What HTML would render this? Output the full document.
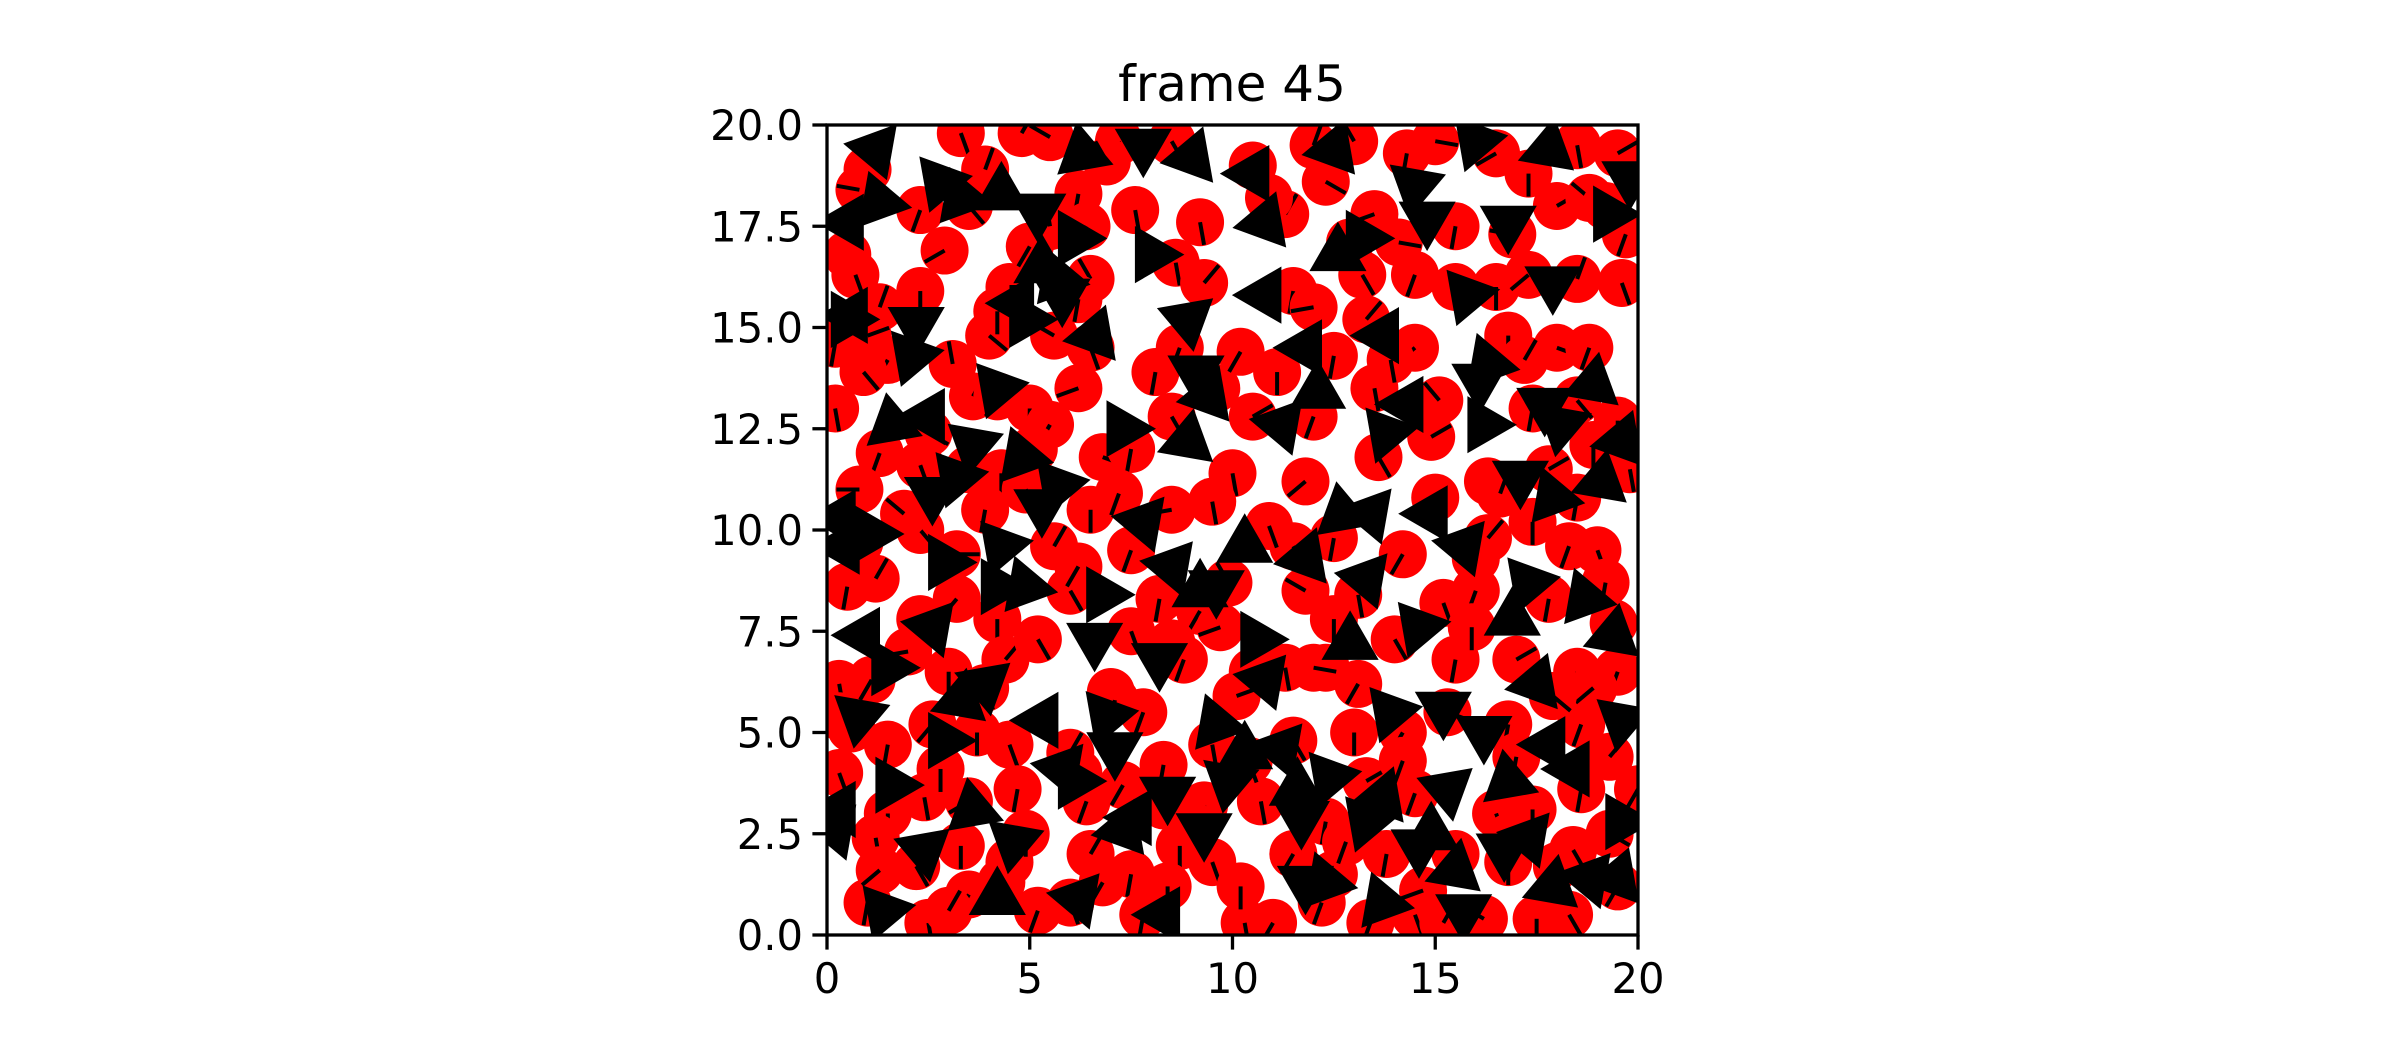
<!DOCTYPE html>
<html><head><meta charset="utf-8"><style>
html,body{margin:0;padding:0;background:#fff;}
svg{display:block;font-family:"DejaVu Sans","Liberation Sans",sans-serif;}
</style></head><body>
<svg id="chart" width="2400" height="1050" viewBox="0 0 2400 1050" xmlns="http://www.w3.org/2000/svg">
<rect width="2400" height="1050" fill="#fff"/>
<defs><clipPath id="ax"><rect x="827" y="125" width="811" height="810"/></clipPath></defs>
<text x="1232" y="101" font-size="50" text-anchor="middle">frame 45</text>
<g id="marks" clip-path="url(#ax)"></g>
<g id="axes"></g>
</svg>
<script>
const circX=[1,3.3,4.8,5.5,7.2,8.5,10.5,12,13,14.3,15,16.5,18.5,19.5,0.8,2.3,3.5,5.5,6.2,6.4,9.2,11.3,12.3,13.5,15.5,17.3,18,18.8,19.2,0.5,0.7,1.3,2.3,4.5,5,6.5,8.6,9.3,11.5,12,13.2,14.5,15.5,16.5,17.3,18.5,19.6,0.2,1,1.5,4,4.2,5.6,6.5,8.7,12.5,13.3,14.5,16.8,18,18.8,0.2,3.6,4.2,5,6.2,8.5,9.6,10.5,12,13.5,15.1,17.4,18.5,19.5,1.3,0.8,2.3,3.5,4.3,5.5,6.8,7.5,10,11.8,13.6,15,16.3,17.8,18.5,19.8,0.8,2.3,3.9,5.6,6.5,7.5,8.5,9.5,11.5,12.5,14.2,16,17.4,18.3,19,0.5,1.2,2.3,3.2,4.2,6,8.2,9.2,11.8,12.5,15.2,16,17.8,19.4,0.3,1.1,3,4.4,7,7.5,8.5,9.7,10.5,11.3,12.3,14,15.5,17,18.5,19.5,0.3,1.5,2.6,3.7,4.5,6,7.8,8.3,9.5,11.5,13,14.2,15.3,16.8,18.6,0.3,1.5,2.4,3.5,4.7,6.4,7.3,8.3,9.3,10.7,12.3,13.3,14.5,16.5,17.4,18.6,20,1.2,2.2,3.3,4.5,6.5,7.5,8.7,9.5,11.5,12.5,13.8,15.5,16.8,18,19.3,1,2.5,3.5,4.3,5.2,6,7.8,8.4,10.3,11,12.2,13.4,14.5,15.2,16.2,17.5,18.3,19.5,
3.9,6.9,10.9,14.1,2.9,7.6,12.9,16.9,19.7,0.9,3.1,6.2,10.2,13.9,17.2,2.5,5.1,8.1,11.1,14.9,1.9,4.9,7.2,10.9,16.6,18.9,3.2,6.2,9.9,13.1,16.3,19.2,2,5.2,8.8,12,15.9,18.9,0.6,3.9,7.1,10.1,13.1,17.9,2.8,6.2,10.4,14.2,17,19.3,1.3,4.9,8.9,12.8,16.8,3,6.8,10.2,14.7,18.4];
const circY=[18.9,19.8,19.8,19.7,19.6,19.6,19,19.5,19.6,19.3,19.6,19.3,19.5,19.3,18.4,17.9,18,17.5,18.3,17.5,17.6,17.8,18.6,17.8,17.5,18.8,18,18.2,18,16.8,16.3,15.5,15.9,16,17,16.2,16.6,16.1,15.9,15.5,16.3,16.3,16,16,16.3,16.2,16.1,14.6,14.8,14.2,14.8,15.4,14.8,14.5,14.5,14.3,15.2,14.5,14.8,14.5,14.5,13,13.3,13.3,13,13.5,12.8,13.5,12.8,12.8,13.5,13.2,13,13.2,12.7,11.9,11,11.6,11.5,11.4,12.6,11.8,12,11.4,11.2,11.8,10.8,11.2,11.5,10.8,11.5,9.7,10,10.5,9.6,10.5,9.5,10.5,10.7,9.6,9.8,9.4,9.3,10.2,9.6,9.5,8.6,8.8,7.8,8.3,7.8,8.5,8.3,8,8.5,7.8,8.2,8.5,8.3,7.7,6.2,6.3,6.5,6.8,6,7.5,7.2,7.6,6.5,6.6,6.6,7.3,6.8,6.8,6.5,6.5,5.4,4.7,5.2,5,4.7,4.5,5.5,4.2,4.7,4.8,5,5,5.5,5.2,5.2,4,3,3.4,3.3,3.6,3.3,3.7,3.2,3.2,3.3,2.8,3.8,3.5,3,3.1,3.6,3.6,2.4,1.7,2.2,1.8,2,1.5,2.2,1.8,2,1.5,2,2,1.8,1.7,2.5,0.8,0.3,1,1.3,0.6,0.8,0.5,1.2,0.3,0.3,0.8,0.3,0.5,0.3,0.4,0.4,0.5,1.2,
18.9,19.1,18.2,17.1,16.9,17.9,17.1,17.3,17.3,13.9,14.1,15.7,14.4,14.2,14.2,12.4,12,13.9,13.9,12.3,10.4,11,10.9,10.1,10.9,12.1,9.4,9.1,8.7,8.4,9.8,8.7,7,7.3,6.8,6.6,7.6,6.1,5.1,6.1,5.8,5.9,6.2,5.9,4.1,4,4.3,4.3,4.4,4.4,1.6,2.5,2.8,2.3,2.4,0.6,1.3,1.2,1.1,2.1];
const circAng=[200,160,30,300,180,150,210,20,330,190,100,240,170,60,280,200,140,350,190,210,170,30,120,250,190,180,60,310,150,200,160,20,180,90,210,330,170,40,190,260,150,200,100,180,230,20,160,190,70,210,130,180,300,160,200,190,40,230,180,110,200,170,30,210,180,250,150,190,60,200,170,320,190,140,180,200,270,160,30,180,210,110,190,170,230,150,180,200,60,190,170,210,140,190,30,180,200,260,170,150,190,210,80,180,200,160,190,30,170,220,180,150,190,210,300,180,160,200,190,130,170,210,180,40,190,160,200,250,180,170,210,150,190,60,180,200,170,190,220,180,160,30,200,190,170,150,180,210,110,190,200,160,180,170,240,190,200,210,150,180,170,190,60,200,160,180,190,210,170,150,180,200,30,190,180,160,210,170,190,200,180,150,120,190,170,210,180,200,160,190,180,170,210,200];
const triX=[1.2,2.8,4.3,6.3,7.8,9,10.5,12.5,14.5,16,17.8,19.8,0.5,3.3,5.2,8,10.8,13.2,14.8,16.8,19.3,0.6,2.2,4.7,5.7,8.9,10.8,12.6,15.8,17.9,0.5,2.1,4.2,6.6,9.1,11.8,13.7,16.3,18.9,1.6,3.6,4.8,7.3,8.9,11.2,13.8,16.2,17.7,19.6,0.3,2.6,5.3,7.8,10.3,12.7,14.9,17.9,2.9,4.3,6.8,9.6,11.8,13.3,15.7,17.3,18.7,0.9,2.6,4.2,6.6,8.2,10.6,12.9,14.6,16.9,19.4,0.8,3.3,5.3,7.1,9.6,11.2,13.9,16.2,17.8,19.6,1.6,3.6,5.8,8.4,10.3,12.4,13.7,15.3,16.8,18.4,0.2,2.4,4.6,7.3,9.3,11.7,13.3,14.9,17.3,19.6,1.4,4.2,6.2,8.3,11.8,13.7,15.7,17.9,19.5,
5.3,5.8,4.9,6.1,0.4,1.1,8.5,9.2,3.2,2.5,12.1,14.3,16.1,18.1,19.1,1.5,3.9,6.9,10.8,15.2,17.5,0.3,2.9,6.1,11.6,14.6,16.7,18.8,7.6,9.9,12.3,15.5,1.3,5.7,17.1,9.4,4.9,13.4];
const triY=[19.4,18.6,18.3,19.3,19.5,19.2,18.8,19.4,18.5,19.6,19.4,18.7,17.6,18.2,17.9,16.8,17.6,17.2,17.7,17.6,17.8,15.3,15.1,15.6,16.2,15.2,15.8,16.8,15.8,16.1,15.2,14.3,13.5,14.8,13.9,14.5,14.8,14.1,13.6,12.6,12.1,11.8,12.5,12.2,12.6,12.4,12.6,13.1,12.2,10.3,10.9,10.6,10.2,9.6,10.4,10.4,10.8,9.2,9.6,8.4,8.6,9.3,8.8,9.6,8.7,8.3,7.4,7.6,8.6,7.3,6.8,7.3,7.2,7.6,7.8,7.4,5.4,5.8,5.3,4.6,5.2,4.6,5.5,5,4.7,5.3,3.7,3.1,4.1,3.5,4.5,3.9,3.4,3.6,3.8,4.1,2.6,2.1,2.3,2.6,2.6,2.9,2.8,2.5,2.4,2.8,0.6,0.9,0.9,0.5,1.3,0.8,0.6,1.2,1.4,
16.5,15.8,15.2,17.2,9.6,9.9,9.1,8.5,11.3,12.8,13.4,13.1,13.7,12.6,11.2,6.6,6.2,5.4,6.3,5.6,6.2,3.1,4.8,3.8,3.6,2.2,2.1,1.4,2.9,3.8,1.3,1.6,18.1,11.1,11.3,13.3,8.6,10.4];
const triAng=[40,200,120,230,180,20,150,260,190,80,250,60,270,100,180,210,140,90,300,180,90,270,180,30,340,170,150,240,200,180,90,200,320,20,180,150,30,220,130,230,190,340,90,10,160,200,330,180,140,270,60,180,160,0,230,30,100,90,200,330,180,20,160,40,200,100,30,160,210,300,180,330,120,200,0,250,190,130,30,180,220,160,200,180,30,190,330,110,280,180,0,200,140,170,230,30,160,50,190,140,180,300,200,120,160,90,200,0,40,150,180,220,180,250,20,
0,180,90,330,270,210,160,0,200,30,240,150,60,190,10,330,170,200,40,180,20,150,90,210,0,180,300,160,30,190,220,10,100,200,180,20,340,160];
const xTicks=[0,5,10,15,20];
const yTicks=[0,2.5,5,7.5,10,12.5,15,17.5,20];
const yTickLabels=["0.0","2.5","5.0","7.5","10.0","12.5","15.0","17.5","20.0"];

const L=827,R=1638,T=125,B=935;
const sx=v=>L+(v/20)*(R-L);
const sy=v=>B-(v/20)*(B-T);
const NS="http://www.w3.org/2000/svg";
const marks=document.getElementById('marks');
const axes=document.getElementById('axes');
function mk(tag,attrs,parent){const e=document.createElementNS(NS,tag);for(const k in attrs)e.setAttribute(k,attrs[k]);parent.appendChild(e);return e;}

for(let i=0;i<circX.length;i++){
  const cx=sx(circX[i]),cy=sy(circY[i]);
  const g=mk('g',{},marks);
  
  
  mk('circle',{cx:cx,cy:cy,r:24,fill:'#ff0000'},g);
  const a=(circAng[i%circAng.length])*Math.PI/180;
  mk('line',{x1:cx,y1:cy,x2:cx+Math.sin(a)*23,y2:cy-Math.cos(a)*23,stroke:'#000','stroke-width':4},g);
}
for(let i=0;i<triX.length;i++){
  const cx=sx(triX[i]),cy=sy(triY[i]);
  const a=triAng[i]*Math.PI/180;
  const r=33;let pts=[];
  for(let k=0;k<3;k++){const b=a+k*2*Math.PI/3;pts.push((cx+Math.sin(b)*r).toFixed(1)+','+(cy-Math.cos(b)*r).toFixed(1));}
  const p=mk('polygon',{points:pts.join(' '),fill:'#000'},marks);
  
  
}
const frame=mk('rect',{x:L,y:T,width:R-L,height:B-T,fill:'none',stroke:'#000','stroke-width':3.3},axes);


xTicks.forEach(v=>{
  const x=sx(v);
  mk('line',{x1:x,y1:B,x2:x,y2:B+14.6,stroke:'#000','stroke-width':3.3},axes);
  const t=mk('text',{x:x,y:B+58,'font-size':41.7,'text-anchor':'middle'},axes);
  t.textContent=v;
  
  
});
yTicks.forEach((v,i)=>{
  const y=sy(v);
  mk('line',{x1:L,y1:y,x2:L-14.6,y2:y,stroke:'#000','stroke-width':3.3},axes);
  const t=mk('text',{x:L-24,y:y+15,'font-size':41.7,'text-anchor':'end'},axes);
  t.textContent=yTickLabels[i];
  
  
});
</script>
</body></html>
